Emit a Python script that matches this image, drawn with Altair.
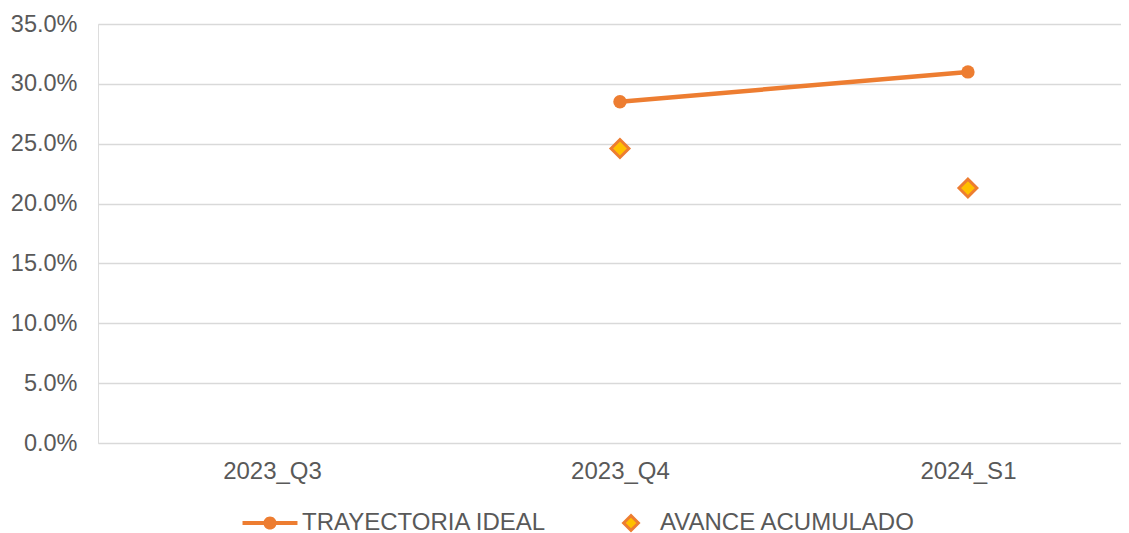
import altair as alt
import pandas as pd

categories = ["2023_Q3", "2023_Q4", "2024_S1"]
ideal = [None, 0.285, 0.310]
avance = [None, 0.246, 0.213]
series_names = ["TRAYECTORIA IDEAL", "AVANCE ACUMULADO"]

df_ideal = pd.DataFrame({"cat": categories, "val": ideal, "serie": series_names[0]})
df_avance = pd.DataFrame({"cat": categories, "val": avance, "serie": series_names[1]})

ORANGE = "#ED7D31"
YELLOW = "#FFC000"
TXT = "#595959"
FONT = "Liberation Sans"

line_path = ("M-4.4,-0.34L4.4,-0.34L4.4,0.34L-4.4,0.34Z"
             "M-1.05,0A1.05,1.05 0 1,1 1.05,0A1.05,1.05 0 1,1 -1.05,0Z")

x_enc = alt.X("cat:N", sort=categories, title=None,
              scale=alt.Scale(type="point", padding=0.47, align=0.532),
              axis=alt.Axis(domain=False, ticks=False, tickSize=0, labelPadding=16,
                            labelFontSize=24, labelColor=TXT, labelFont=FONT, labelAngle=0,
                            grid=False))
y_enc = alt.Y("val:Q", title=None,
              scale=alt.Scale(domain=[0, 0.35], nice=False),
              axis=alt.Axis(format=".1%", values=[0, 0.05, 0.10, 0.15, 0.20, 0.25, 0.30, 0.35],
                            domain=False, ticks=False, tickSize=0, labelPadding=21,
                            labelFontSize=23.5, labelColor=TXT, labelFont=FONT,
                            gridColor="#D9D9D9", gridWidth=1.5))

common_leg = dict(title=None, orient="none", direction="horizontal",
                  labelFontSize=24, labelColor=TXT, labelFont=FONT,
                  labelLimit=500, legendY=487)

line = alt.Chart(df_ideal).mark_line(color=ORANGE, strokeWidth=4.5).encode(x=x_enc, y=y_enc)

ideal_pts = alt.Chart(df_ideal).mark_point(filled=True, opacity=1, size=180, strokeWidth=0).encode(
    x=x_enc, y=y_enc,
    fill=alt.Fill("serie:N", scale=alt.Scale(domain=[series_names[0]], range=[ORANGE]),
                  legend=alt.Legend(legendX=160, symbolType=line_path, symbolSize=156,
                                    labelOffset=20, symbolStrokeWidth=0, **common_leg)),
)

avance_pts = alt.Chart(df_avance).mark_point(
    filled=True, opacity=1, size=320, shape="diamond", stroke=ORANGE, strokeWidth=3
).encode(
    x=x_enc, y=y_enc,
    color=alt.Color("serie:N", scale=alt.Scale(domain=[series_names[1]], range=[YELLOW]),
                    legend=alt.Legend(legendX=521, symbolType="diamond", symbolSize=220,
                                      labelOffset=17, symbolStrokeColor=ORANGE,
                                      symbolStrokeWidth=3, **common_leg)),
)

chart = alt.layer(line, ideal_pts, avance_pts).resolve_scale(
    color="independent", fill="independent"
).resolve_legend(color="independent", fill="independent").properties(
    width=1023, height=419,
    autosize=alt.AutoSizeParams(type="none"),
    padding={"left": 90, "top": 16, "right": 0, "bottom": 93},
).configure_view(stroke=None).configure(background="white")

chart.save("out.html", embed_options={"renderer": "svg", "actions": False})
